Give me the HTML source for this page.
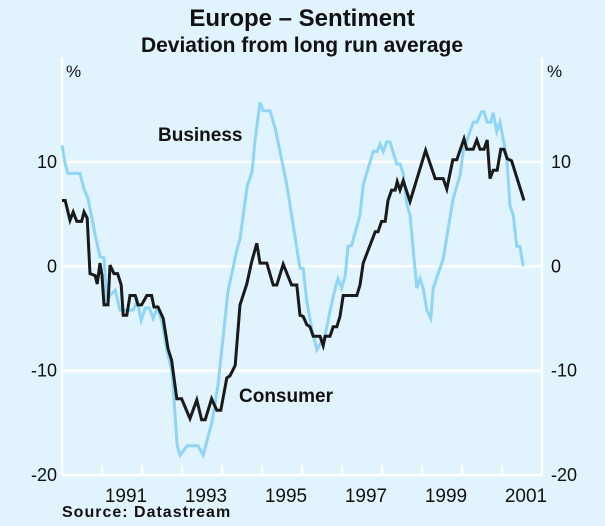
<!DOCTYPE html>
<html><head><meta charset="utf-8"><style>
body{margin:0;background:#e1f3fd;}
svg{display:block;font-family:"Liberation Sans",Arial,sans-serif;}
</style></head><body>
<svg id="chart" width="605" height="526" viewBox="0 0 605 526">
<rect x="0" y="0" width="605" height="526" fill="#e1f3fd"/>
<text x="302" y="26" text-anchor="middle" font-size="24" font-weight="bold" fill="#111">Europe – Sentiment</text>
<text x="302" y="52" text-anchor="middle" font-size="21" font-weight="bold" fill="#111">Deviation from long run average</text>
<text x="66" y="77" font-size="17" fill="#111">%</text>
<text x="547" y="77" font-size="17" fill="#111">%</text>
<g id="grid"></g><g id="series"></g><g id="labels"></g>
<text x="158" y="141" font-size="19" font-weight="bold" fill="#111">Business</text>
<text x="239" y="402" font-size="19" font-weight="bold" fill="#111">Consumer</text>
<text x="62" y="517" font-size="16" font-weight="bold" letter-spacing="1" fill="#111">Source: Datastream</text>
</svg>
<script>
const yTicks=[10,0,-10,-20];
const yearLabels=[1991,1993,1995,1997,1999,2001];
const busDates=[1990.00,1990.08,1990.15,1990.45,1990.55,1990.65,1990.83,1990.95,1991.05,1991.12,1991.20,1991.33,1991.45,1991.78,1991.88,1991.98,1992.08,1992.18,1992.28,1992.38,1992.50,1992.63,1992.75,1992.88,1992.95,1993.13,1993.40,1993.53,1993.75,1993.90,1994.15,1994.38,1994.45,1994.63,1994.75,1994.83,1994.95,1995.03,1995.20,1995.33,1995.45,1995.62,1995.95,1996.03,1996.12,1996.24,1996.37,1996.49,1996.58,1996.70,1996.83,1996.90,1996.99,1997.08,1997.15,1997.24,1997.45,1997.53,1997.78,1997.88,1997.95,1998.03,1998.12,1998.20,1998.37,1998.45,1998.53,1998.62,1998.70,1998.87,1998.95,1999.03,1999.12,1999.22,1999.28,1999.53,1999.78,1999.95,2000.03,2000.28,2000.37,2000.49,2000.55,2000.63,2000.72,2000.78,2000.87,2000.95,2001.12,2001.20,2001.28,2001.37,2001.45,2001.53];
const busValues=[11.6,9.8,8.9,8.9,7.4,6.5,3.0,0.9,0.8,-3.3,-2.8,-2.3,-4.2,-4.2,-3.3,-5.2,-4.0,-4.0,-5.0,-4.0,-5.3,-8.2,-10.1,-17.2,-18.1,-17.2,-17.2,-18.1,-14.9,-11.4,-2.4,1.7,2.6,7.7,9.0,12.2,15.7,14.9,14.9,13.2,11.0,7.8,-0.2,-0.2,-3.4,-5.9,-8.0,-7.2,-6.6,-4.3,-2.1,-1.2,-2.1,-0.9,1.9,2.0,4.9,7.8,11.0,11.0,11.7,11.0,11.9,11.9,9.8,9.8,8.9,6.0,4.9,-2.1,-1.2,-2.1,-4.2,-5.0,-2.1,0.7,6.5,8.7,11.0,13.8,13.8,14.8,14.8,13.8,13.8,14.7,12.9,13.8,10.3,5.8,4.9,1.9,1.9,0.0];
const conDates=[1990.00,1990.08,1990.20,1990.28,1990.37,1990.49,1990.55,1990.63,1990.70,1990.83,1990.88,1990.95,1991.00,1991.05,1991.15,1991.20,1991.30,1991.39,1991.48,1991.53,1991.62,1991.70,1991.83,1991.90,1991.99,1992.12,1992.24,1992.30,1992.40,1992.53,1992.65,1992.74,1992.87,1992.99,1993.20,1993.37,1993.49,1993.58,1993.74,1993.87,1993.97,1994.12,1994.20,1994.33,1994.45,1994.62,1994.74,1994.87,1994.95,1995.12,1995.28,1995.37,1995.53,1995.74,1995.87,1995.95,1996.03,1996.12,1996.20,1996.28,1996.45,1996.53,1996.58,1996.70,1996.78,1996.87,1996.95,1997.03,1997.37,1997.45,1997.53,1997.83,1997.90,1997.99,1998.08,1998.15,1998.24,1998.33,1998.38,1998.45,1998.53,1998.70,1999.09,1999.33,1999.53,1999.62,1999.77,1999.87,2000.05,2000.12,2000.28,2000.37,2000.45,2000.55,2000.63,2000.70,2000.78,2000.88,2000.97,2001.05,2001.13,2001.24,2001.55];
const conValues=[6.3,6.3,4.4,5.2,4.3,4.3,5.2,4.6,-0.7,-0.9,-1.7,0.3,-0.9,-3.7,-3.7,0.1,-0.7,-0.7,-1.8,-4.7,-4.7,-2.8,-2.8,-3.7,-3.7,-2.8,-2.8,-3.9,-3.9,-5.0,-7.9,-9.0,-12.7,-12.7,-14.6,-12.8,-14.7,-14.7,-12.7,-13.8,-13.8,-10.7,-10.5,-9.5,-3.7,-1.7,0.4,2.2,0.3,0.3,-1.8,-1.8,0.2,-1.8,-1.8,-4.7,-4.8,-5.6,-5.8,-6.7,-6.7,-7.6,-6.7,-6.7,-5.8,-5.8,-4.8,-2.8,-2.8,-1.8,0.3,3.3,3.3,4.3,4.3,6.3,7.3,7.3,8.1,7.3,8.2,6.2,11.1,8.4,8.4,7.4,10.2,10.2,12.2,11.2,11.2,12.1,11.2,11.2,12.1,8.4,9.2,9.2,11.2,11.2,10.3,10.1,6.3];

const X0=62,X1=542,T0=1990,T1=2002,Y0=475,Y1=57.5,V0=-20,V1=20;
const xs=t=>X0+(t-T0)/(T1-T0)*(X1-X0);
const ys=v=>Y0-(v-V0)/(V1-V0)*(Y0-Y1);
const NS='http://www.w3.org/2000/svg';
function mk(tag,attrs,parent){const e=document.createElementNS(NS,tag);for(const k in attrs)e.setAttribute(k,attrs[k]);parent.appendChild(e);return e;}
const grid=document.getElementById('grid'),series=document.getElementById('series'),labels=document.getElementById('labels');
yTicks.forEach(v=>{
  if(v>V0){const l=mk('line',{x1:X0,x2:X1,y1:ys(v),y2:ys(v),stroke:'#fff','stroke-width':2.5},grid);
  
  }
  const a=mk('text',{x:57,y:ys(v)+6,'text-anchor':'end','font-size':18,fill:'#111'},labels);a.textContent=v;
  
  
  const b=mk('text',{x:551,y:ys(v)+6,'font-size':18,fill:'#111'},labels);b.textContent=v;
  
  
});
[[X0,Y1,X0,Y0],[X1,Y1,X1,Y0],[X0,Y0,X1,Y0]].forEach((c,i)=>{
  const l=mk('line',{x1:c[0],y1:c[1],x2:c[2],y2:c[3],stroke:'#fff','stroke-width':2.5},grid);
  
  
});
for(let yr=T0+1;yr<T1;yr++){
  const l=mk('line',{x1:xs(yr),x2:xs(yr),y1:Y0,y2:Y0-10,stroke:'#fff','stroke-width':2.5},grid);
  
  
}
yearLabels.forEach(yr=>{
  const t=mk('text',{x:xs(yr+0.6),y:502,'text-anchor':'middle','font-size':19,fill:'#111'},labels);t.textContent=yr;
  
  
});
function line(d,v,color,name){
  const pts=d.map((t,i)=>xs(t).toFixed(1)+','+ys(v[i]).toFixed(1)).join(' ');
  const p=mk('polyline',{points:pts,fill:'none',stroke:color,'stroke-width':3,'stroke-linejoin':'miter'},series);
  
  
}
line(busDates,busValues,'#8ed5f6','business-line');
line(conDates,conValues,'#1a1a1a','consumer-line');
</script>
</body></html>
